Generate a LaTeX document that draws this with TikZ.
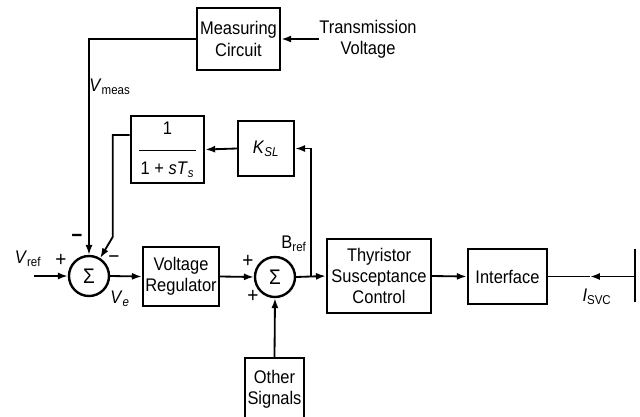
\documentclass[tikz,border=0pt]{standalone}
\usepackage{fontspec}
\setmainfont{Liberation Sans}[FakeStretch=0.9]
\usetikzlibrary{arrows.meta,positioning,calc}

\begin{document}
\begin{tikzpicture}[
  x=0.025cm, y=-0.025cm,
  >={Latex[length=7pt,width=5pt]},
  every node/.style={font=\fontsize{13}{15}\selectfont},
  blk/.style={draw, line width=1.7pt, align=center, inner sep=1pt},
  sumj/.style={draw, circle, line width=1.7pt, minimum size=1cm, inner sep=0pt,
               font=\fontsize{15}{15}\selectfont},
  sig/.style={line width=1.3pt},
  lbl/.style={inner sep=0pt},
  sgn/.style={inner sep=0pt, font=\fontsize{15}{15}\selectfont},
]
  \useasboundingbox (0,0) rectangle (640,416);

  % Measuring path
  \node[blk, minimum width=2.08cm, minimum height=1.55cm] (meas) at (238.5,39) {Measuring\\Circuit};
  \node[lbl, align=center] (tv) at (368,39) {Transmission\\Voltage};

  % Slope path
  \node[blk, minimum width=1.83cm, minimum height=1.68cm] (lag) at (167.5,149.5)
    {1\\[-3pt]\rule{1.4cm}{0.8pt}\\[2pt]1 + \textit{sT}\textsubscript{\textit{s}}};
  \node[blk, minimum width=1.4cm, minimum height=1.38cm] (ksl) at (266,148.5)
    {\textit{K}\textsubscript{\textit{SL}}};

  % Forward path
  \node[sumj] (sum1) at (89,276) {Σ};
  \node[blk, minimum width=1.9cm, minimum height=1.48cm] (vr) at (181,276.5) {Voltage\\Regulator};
  \node[sumj] (sum2) at (275,277) {Σ};
  \node[blk, minimum width=2.6cm, minimum height=1.85cm] (thy) at (379,276) {Thyristor\\Susceptance\\Control};
  \node[blk, minimum width=1.98cm, minimum height=1.38cm] (intf) at (507.5,276.5) {Interface};
  \node[blk, minimum width=1.47cm, minimum height=1.55cm] (oth) at (274.5,389) {Other\\Signals};

  % Bus bar and junction points
  \coordinate (bt) at (635,249);
  \coordinate (bb) at (635,302);
  \coordinate (bus) at (635,276.5);
  \coordinate (isvc) at (590,276.5);
  \coordinate (vin) at (34,276);
  \coordinate (tap) at (311,277);
  \draw[line width=2pt] (bt) -- (bb);

  % Connectors
  \draw[sig, ->] (tv.west) -- (meas.east);
  \draw[sig, ->] (meas.west) -| (sum1.north);
  \draw[sig, ->] ($(lag.west)+(0,-14.5)$) -- ++(-17,0) -- ++(0,102) -- (sum1.58);
  \draw[sig, ->] (vin) -- (sum1.west);
  \draw[sig, ->] (sum1.east) -- (vr.west);
  \draw[sig, ->] (vr.east) -- (sum2.west);
  \draw[sig, ->] (sum2.east) -- (thy.west);
  \draw[sig, ->] (tap) |- (ksl.east);
  \draw[sig, ->] (ksl.west) -- (lag.east);
  \draw[sig, ->] (oth.north) -- (sum2.south);
  \draw[sig, ->] (thy.east) -- (intf.west);
  \draw[sig, ->] (bus) -- (isvc);
  \draw[sig] (isvc) -- (intf.east);

  % Signal labels
  \node[lbl] (vmeas) at (110,87) {\textit{V}\textsubscript{meas}};
  \node[lbl] (vref) at (28,259) {\textit{V}\textsubscript{ref}};
  \node[sgn] (p1) at (61,260) {+};
  \node[sgn] (m1) at (77,238) {\textbf{−}};
  \node[sgn] (m2) at (114,260) {−};
  \node[lbl] (ve) at (120,299) {\textit{V}\textsubscript{\textit{e}}};
  \node[sgn] (p2) at (248,261) {+};
  \node[sgn] (p3) at (253,296) {+};
  \node[lbl] (bref) at (294,244) {B\textsubscript{ref}};
  \node[lbl] (isv) at (597,297) {\textit{I}\textsubscript{SVC}};
\end{tikzpicture}
\end{document}
